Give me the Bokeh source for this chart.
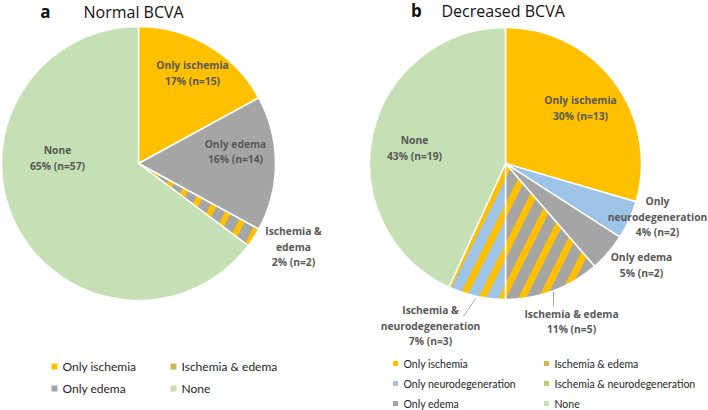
import numpy as np
from bokeh.plotting import figure
from bokeh.models import Range1d
from bokeh.core.properties import value
from bokeh.embed import file_html
from bokeh.resources import INLINE

# ---------------- data ----------------
left_letter = "a"
left_title = "Normal BCVA"
left_categories = ["Only ischemia", "Only edema", "Ischemia & edema", "None"]
left_counts = [15, 14, 2, 57]
left_percents = [17, 16, 2, 65]

right_letter = "b"
right_title = "Decreased BCVA"
right_categories = ["Only ischemia", "Only neurodegeneration", "Only edema",
                    "Ischemia & edema", "Ischemia & neurodegeneration", "None"]
right_counts = [13, 2, 2, 5, 3, 19]
right_percents = [30, 4, 5, 11, 7, 43]

left_legend_order = ["Only ischemia", "Only edema", "Ischemia & edema", "None"]
right_legend_order = ["Only ischemia", "Only neurodegeneration", "Only edema",
                      "Ischemia & edema", "Ischemia & neurodegeneration", "None"]

# ---------------- style ----------------
YELLOW = "#FFC000"
GRAY = "#A5A5A5"
BLUE = "#9DC3E6"
GREEN = "#C5E0B4"
styles = {
    "Only ischemia": dict(fill=YELLOW, hatch=None, legend=YELLOW),
    "Only edema": dict(fill=GRAY, hatch=None, legend=GRAY),
    "Only neurodegeneration": dict(fill=BLUE, hatch=None, legend=BLUE),
    "Ischemia & edema": dict(fill=GRAY, hatch=YELLOW, legend="#D2B352"),
    "Ischemia & neurodegeneration": dict(fill=BLUE, hatch=YELLOW, legend="#CEC273"),
    "None": dict(fill=GREEN, hatch=None, legend=GREEN),
}
wraps = {
    "Ischemia & edema": ["Ischemia &", "edema"],
    "Only neurodegeneration": ["Only", "neurodegeneration"],
    "Ischemia & neurodegeneration": ["Ischemia &", "neurodegeneration"],
}
right_no_wrap = {"Ischemia & edema"}

LABEL_FONT = "Open Sans"
LEGEND_FONT = "Lato"
LABEL_COLOR = "#595959"

W, H = 708, 410


def Y(y):
    return H - y


p = figure(width=W, height=H, x_range=Range1d(0, W), y_range=Range1d(0, H),
           output_backend="svg", toolbar_location=None, min_border=0)
p.axis.visible = False
p.grid.visible = False
p.outline_line_color = None
p.background_fill_color = "white"
p.border_fill_color = "white"


def draw_pie(cx, cy, r, cats, counts, percents, label_offsets, hscale, hweight,
             no_wrap=()):
    c = np.array(counts, dtype=float)
    frac = c / c.sum()
    cum = np.concatenate([[0.0], np.cumsum(frac)])
    start = np.pi / 2 - cum[:-1] * 2 * np.pi
    end = np.pi / 2 - cum[1:] * 2 * np.pi
    for i, cat in enumerate(cats):
        st = styles[cat]
        kw = dict(x=cx, y=Y(cy), radius=r, start_angle=start[i], end_angle=end[i],
                  direction="clock", fill_color=st["fill"], line_color="white",
                  line_width=1.5)
        if st["hatch"]:
            kw.update(hatch_pattern="/", hatch_color=st["hatch"],
                      hatch_scale=hscale, hatch_weight=hweight)
        p.wedge(**kw)
    for i, cat in enumerate(cats):
        lines = list(wraps.get(cat, [cat])) if cat not in no_wrap else [cat]
        lines.append(f"{percents[i]}% (n={counts[i]})")
        dx, dy = label_offsets[i]
        n = len(lines)
        lh = 15.5
        ys = [cy + dy + (k - (n - 1) / 2) * lh for k in range(n)]
        p.text(x=[cx + dx] * n, y=[Y(v) for v in ys], text=lines,
               text_font=value(LABEL_FONT), text_font_style="bold",
               text_font_size="10.3px", text_color=LABEL_COLOR,
               text_align="center", text_baseline="middle")


# left pie
draw_pie(138, 163, 137, left_categories, left_counts, left_percents,
         [(54, -90.5), (97, -12), (155, 83), (-81, -5.5)], 36, 6)
# right pie
draw_pie(505, 163, 136, right_categories, right_counts, right_percents,
         [(75, -55.5), (152, 53), (136, 101.7), (66, 158), (-75, 162), (-91, -15.5)],
         40, 7, no_wrap=right_no_wrap)

# leader lines (right pie)
p.segment(x0=[553, 475], y0=[Y(291), Y(298)], x1=[553, 463], y1=[Y(306), Y(316)],
          line_color="#A6A6A6", line_width=1)

# titles
p.text(x=[45, 416], y=[Y(11), Y(10)], text=[left_letter, right_letter],
       text_font=value("Open Sans"), text_font_style="bold", text_font_size="17px",
       text_color="#111111", text_align="center", text_baseline="middle")
p.text(x=[83, 441], y=[Y(11), Y(10)], text=[left_title, right_title],
       text_font=value("Open Sans"), text_font_size="16px",
       text_color="#111111", text_align="left", text_baseline="middle")


# legends
def draw_legend(order, col_x, row_y, nrows, font_size, msize):
    xs_m, ys_m, cols, xs_t, ys_t, txt = [], [], [], [], [], []
    for i, cat in enumerate(order):
        col, row = divmod(i, nrows)
        mx = col_x[col]
        yy = Y(row_y[row])
        xs_m.append(mx)
        ys_m.append(yy)
        cols.append(styles[cat]["legend"])
        xs_t.append(mx + 8)
        ys_t.append(yy)
        txt.append(cat)
    p.scatter(x=xs_m, y=ys_m, marker="square", size=msize, fill_color=cols,
              line_color=None)
    p.text(x=xs_t, y=ys_t, text=txt, text_font=value(LEGEND_FONT),
           text_font_size=font_size, text_color="#262626",
           text_align="left", text_baseline="middle")


draw_legend(left_legend_order, [54, 173], [366, 388], 2, "12px", 6)
draw_legend(right_legend_order, [395, 546], [363, 383, 403], 3, "10.5px", 5)

open("out.html", "w").write(file_html(p, INLINE))
